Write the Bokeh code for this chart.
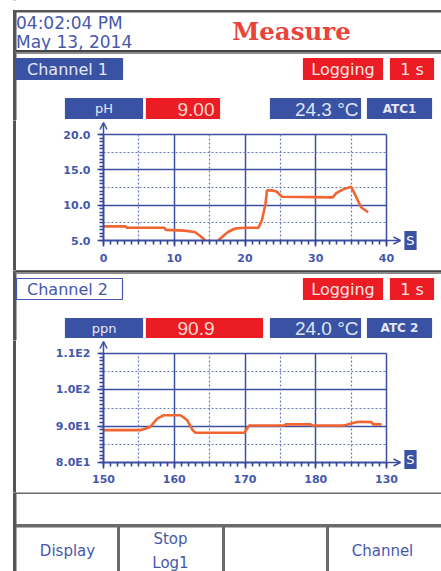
from bokeh.plotting import figure
from bokeh.layouts import column, row
from bokeh.models import Range1d, FixedTicker, Grid, Arrow, OpenHead, Label
from bokeh.core.properties import value
from bokeh.embed import file_html
from bokeh.resources import INLINE

NAN = float("nan")

# ---------------- data ----------------
clock_time = "04:02:04 PM"
clock_date = "May 13, 2014"
screen_title = "Measure"
channel_names = ["Channel 1", "Channel 2"]
log_status = "Logging"
log_interval = "1 s"
units = ["pH", "ppn"]
readings = ["9.00", "90.9"]
temps = ["24.3 °C", "24.0 °C"]
atc_labels = ["ATC1", "ATC 2"]
soft_keys = ["Display", "Stop", "Log1", "Channel"]
time_unit = "S"

ch1_t = [0, 3.1, 3.3, 8.6, 8.8, 11.4, 12.9, 13.6, 14.4, 15.2, 16.2, 17.0, 17.6,
         18.6, 20.0, 21.9, 22.4, 22.9, 23.1, 23.8, 24.5, 25.2, 32.4, 32.9, 33.8,
         35.0, 35.7, 36.4, 37.4]
ch1_v = [7.0, 7.0, 6.8, 6.8, 6.5, 6.4, 6.2, 5.7, 5.0, NAN, 5.0, 5.7, 6.2,
         6.7, 6.8, 6.8, 7.9, 10.2, 12.1, 12.1, 11.9, 11.2, 11.1, 11.7, 12.2,
         12.6, 11.2, 9.7, 9.0]
ch1_xticks = [0, 10, 20, 30, 40]
ch1_xlabels = ["0", "10", "20", "30", "40"]
ch1_xdots = [5, 15, 25, 35]
ch1_yticks = [5, 10, 15, 20]
ch1_ylabels = ["5.0", "10.0", "15.0", "20.0"]
ch1_ydots = [7.5, 12.5, 17.5]

ch2_t = [150, 155.2, 156.6, 157.6, 158.5, 160.9, 161.8, 162.6, 163.0, 169.9,
         170.6, 175.6, 175.7, 179.3, 179.4, 184.0, 184.6, 186.0, 187.9, 188.1, 189.3]
ch2_v = [88.9, 88.9, 89.8, 92.1, 93.0, 93.0, 91.7, 88.9, 88.2, 88.2,
         90.2, 90.2, 90.5, 90.5, 90.2, 90.2, 90.5, 91.2, 91.1, 90.5, 90.5]
ch2_xticks = [150, 160, 170, 180, 190]
ch2_xlabels = ["150", "160", "170", "180", "130"]
ch2_xdots = [155, 165, 175, 185]
ch2_yticks = [80, 90, 100, 110]
ch2_ylabels = ["8.0E1", "9.0E1", "1.0E2", "1.1E2"]
ch2_ydots = [85, 95, 105]

# ---------------- styles ----------------
BLUE_BOX = "#3a52a3"
RED_BOX = "#ec1c24"
TXT_BLUE = "#4658ac"
GRID_BLUE = "#3c4fa0"
TICK_BLUE = "#33449a"
DOT_BLUE = "#6a7bc0"
LINE_COL = "#f26430"
FRAME_GRAY = "#555555"
SANS = "DejaVu Sans"
LSANS = "Liberation Sans"
W = 441


def ui_fig(y_top, y_bot, x_left=0, x_right=W):
    p = figure(width=int(x_right - x_left), height=int(y_bot - y_top),
               x_range=Range1d(x_left, x_right), y_range=Range1d(y_bot, y_top),
               output_backend="svg", toolbar_location=None,
               x_axis_location=None, y_axis_location=None, min_border=0)
    p.grid.grid_line_color = None
    p.outline_line_color = None
    p.background_fill_color = "white"
    p.border_fill_color = "white"
    p.quad(left=13, right=15.5, top=y_top, bottom=y_bot, color=FRAME_GRAY)
    return p


def txt(p, x, y, s, size, color, align="center", font=SANS, style="normal"):
    p.text(x=[x], y=[y], text=[s], text_font=value(font), text_font_size=size,
           text_color=color, text_align=align, text_baseline="middle",
           text_font_style=style)


def box(p, l, r, t, b, fill, line=None):
    p.quad(left=l, right=r, top=t, bottom=b, fill_color=fill,
           line_color=line if line else fill, line_width=1.2)


def separator(p, y0, y1):
    p.quad(left=15.5, right=W, top=y0, bottom=y1, color="#8a8a8a")
    p.quad(left=15.5, right=W, top=y0, bottom=y0 + 1, color="#444444")


def channel_header(p, idx, y_bar, y_val, filled):
    yb0, yb1 = y_bar
    ym = (yb0 + yb1) / 2
    if filled:
        box(p, 16, 122, yb0, yb1, BLUE_BOX)
        txt(p, 67, ym, channel_names[idx], "16px", "#e4e8f4")
    else:
        box(p, 16, 122, yb0, yb1, "white", TXT_BLUE)
        txt(p, 67, ym, channel_names[idx], "16px", TXT_BLUE)
    box(p, 303, 382, yb0, yb1, RED_BOX)
    txt(p, 342.5, ym, log_status, "16px", "#fbe4e4")
    box(p, 390, 433, yb0, yb1, RED_BOX)
    txt(p, 411.5, ym, log_interval, "16px", "#fbe4e4")
    v0, v1 = y_val
    vm = (v0 + v1) / 2
    box(p, 65, 142, v0, v1, BLUE_BOX)
    txt(p, 103.5, vm, units[idx], "13px", "#e4e8f4")
    box(p, 146, 219 if idx == 0 else 262, v0, v1, RED_BOX)
    txt(p, 177, vm + 0.5, readings[idx], "19px", "#fbd8d0", align="left", font=LSANS)
    box(p, 270, 360, v0, v1, BLUE_BOX)
    txt(p, 358, vm + 0.5, temps[idx], "19px", "#dfe5f4", align="right", font=LSANS)
    box(p, 367, 431, v0, v1, BLUE_BOX)
    txt(p, 399, vm, atc_labels[idx], "12px", "#e4e8f4", style="bold")


def border_fig(h):
    p = figure(width=16, height=h, x_range=Range1d(0, 16), y_range=Range1d(0, 1),
               output_backend="svg", toolbar_location=None,
               x_axis_location=None, y_axis_location=None, min_border=0)
    p.grid.grid_line_color = None
    p.outline_line_color = None
    p.border_fill_color = "white"
    p.background_fill_color = "white"
    p.quad(left=13, right=15.5, top=1, bottom=0, color=FRAME_GRAY)
    return p


# chart geometry in screen pixels (layout only)
FIG_X0 = 16
BOX_X0, BOX_X1 = 103, 386


def chart(t, v, xticks, xlabels, xdots, yticks, ylabels, ydots, yminor,
          fig_y0, box_y0, box_y1, fig_y1, standoff, s_dy):
    x0, x1 = xticks[0], xticks[-1]
    y0, y1 = yticks[0], yticks[-1]
    kx = (x1 - x0) / (BOX_X1 - BOX_X0)
    ky = (y1 - y0) / (box_y1 - box_y0)
    xr = Range1d(x0 - (BOX_X0 - FIG_X0) * kx, x1 + (W - BOX_X1) * kx)
    yr = Range1d(y0 - (fig_y1 - box_y1) * ky, y1 + (box_y0 - fig_y0) * ky)
    p = figure(width=W - FIG_X0, height=fig_y1 - fig_y0, x_range=xr, y_range=yr,
               output_backend="svg", toolbar_location=None, min_border=0)
    p.background_fill_color = "white"
    p.border_fill_color = "white"
    p.outline_line_color = None

    step = (xticks[1] - xticks[0]) / 10
    xminor = [x0 + i * step for i in range(int(round((x1 - x0) / step)) + 1)]
    ysteps = int(round((y1 - y0) / yminor))
    yminors = [y0 + i * yminor for i in range(ysteps + 1)]
    p.xaxis.ticker = FixedTicker(ticks=xticks, minor_ticks=xminor)
    p.yaxis.ticker = FixedTicker(ticks=yticks, minor_ticks=yminors)
    p.xaxis.major_label_overrides = dict(zip(xticks, xlabels))
    p.yaxis.major_label_overrides = dict(zip(yticks, ylabels))
    p.xaxis.fixed_location = y0
    p.yaxis.fixed_location = x0
    p.xaxis.bounds = (x0, x1)
    p.yaxis.bounds = (y0, y1)
    for ax in (p.xaxis, p.yaxis):
        ax.axis_line_color = GRID_BLUE
        ax.axis_line_width = 2
        ax.major_tick_line_color = TICK_BLUE
        ax.minor_tick_line_color = TICK_BLUE
        ax.major_tick_line_width = 1.6
        ax.minor_tick_line_width = 1.6
        ax.major_tick_out = 6
        ax.major_tick_in = 0
        ax.minor_tick_out = 4
        ax.minor_tick_in = 0
        ax.major_label_text_font = SANS
        ax.major_label_text_font_style = "bold"
        ax.major_label_text_font_size = "11px"
        ax.major_label_text_color = TXT_BLUE
    p.xaxis.major_label_standoff = standoff
    p.yaxis.major_label_standoff = 7

    p.xgrid.ticker = FixedTicker(ticks=xticks[1:])
    p.ygrid.ticker = FixedTicker(ticks=yticks[1:])
    p.xgrid.bounds = (x0, x1)
    p.ygrid.bounds = (y0, y1)
    p.xgrid.cross_bounds = (y0, y1)
    p.ygrid.cross_bounds = (x0, x1)
    p.grid.grid_line_color = GRID_BLUE
    p.grid.grid_line_width = 1.5
    p.add_layout(Grid(dimension=0, ticker=FixedTicker(ticks=xdots),
                      cross_bounds=(y0, y1),
                      grid_line_color=DOT_BLUE, grid_line_dash="2 2", grid_line_width=1.2))
    p.add_layout(Grid(dimension=1, ticker=FixedTicker(ticks=ydots),
                      cross_bounds=(x0, x1),
                      grid_line_color=DOT_BLUE, grid_line_dash="2 2", grid_line_width=1.2))

    p.line(t, v, line_color=LINE_COL, line_width=2.6)

    p.add_layout(Arrow(x_start=x1, y_start=y0, x_end=x1 + 14 * kx, y_end=y0,
                       line_color=GRID_BLUE, line_width=1.5,
                       end=OpenHead(size=7, line_color=GRID_BLUE, line_width=1.5)))
    p.add_layout(Arrow(x_start=x0, y_start=y1, x_end=x0, y_end=y1 + 12 * ky,
                       line_color=GRID_BLUE, line_width=1.5,
                       end=OpenHead(size=7, line_color=GRID_BLUE, line_width=1.5)))
    p.add_layout(Label(x=x1, y=y0, x_offset=24, y_offset=s_dy, text=time_unit,
                       text_align="center", text_baseline="middle",
                       text_font=SANS, text_font_size="13px", text_color="white",
                       background_fill_color=BLUE_BOX, padding=2))
    return p


# ---------------- header ----------------
hdr = ui_fig(0, 120)
hdr.quad(left=13, right=W, top=9, bottom=11.5, color=FRAME_GRAY)
hdr.quad(left=13, right=W, top=0, bottom=9, color="white")
txt(hdr, 15.5, 22, clock_time, "17px", TXT_BLUE, align="left")
txt(hdr, 15.5, 41, clock_date, "17px", TXT_BLUE, align="left")
txt(hdr, 291, 31, screen_title, "24.5px", "#e8443a", font="DejaVu Serif", style="bold")
separator(hdr, 50, 53)
channel_header(hdr, 0, (58, 79), (98, 118), True)

c1 = chart(ch1_t, ch1_v, ch1_xticks, ch1_xlabels, ch1_xdots, ch1_yticks,
           ch1_ylabels, ch1_ydots, 0.5, 120, 134, 240, 270, 7, 0)

# ---------------- channel 2 header ----------------
h2 = ui_fig(270, 340)
separator(h2, 270, 273)
channel_header(h2, 1, (278, 299), (318, 337), False)

c2 = chart(ch2_t, ch2_v, ch2_xticks, ch2_xlabels, ch2_xdots, ch2_yticks,
           ch2_ylabels, ch2_ydots, 1, 340, 353, 462, 492, 6, 3)

# ---------------- footer ----------------
ft = ui_fig(492, 571)
ft.quad(left=15.5, right=W, top=490.5, bottom=493, color="#6a6a6a")
ft.quad(left=15.5, right=W, top=524, bottom=526.5, color="#6a6a6a")
for xd in (118, 223, 327):
    ft.quad(left=xd - 1, right=xd + 1, top=526, bottom=571, color="#6a6a6a")
txt(ft, 67, 550, soft_keys[0], "15px", TXT_BLUE)
txt(ft, 170, 538, soft_keys[1], "15px", TXT_BLUE)
txt(ft, 170, 562, soft_keys[2], "15px", TXT_BLUE)
txt(ft, 382, 550, soft_keys[3], "15px", TXT_BLUE)

layout = column(hdr, row(border_fig(150), c1), h2, row(border_fig(152), c2), ft)

open("out.html", "w").write(file_html(layout, INLINE))
